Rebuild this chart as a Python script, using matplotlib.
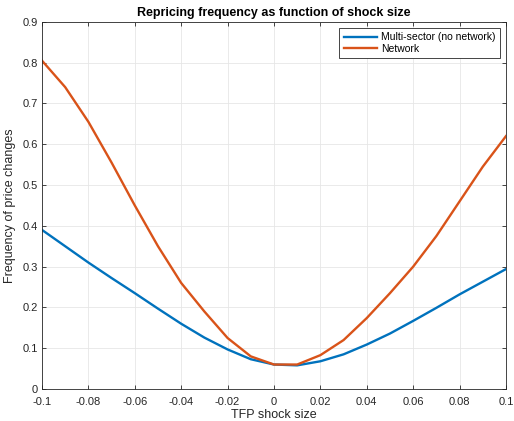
import matplotlib
matplotlib.use("Agg")
import matplotlib.pyplot as plt
import numpy as np

plt.rcParams['font.family'] = ['Liberation Sans', 'DejaVu Sans']

# shock grid and repricing frequencies
shock = np.round(np.arange(-0.1, 0.1001, 0.01), 2)
multi_sector = [0.390, 0.350, 0.310, 0.272, 0.235, 0.197, 0.160, 0.126, 0.097, 0.073,
                0.060, 0.058, 0.068, 0.085, 0.109, 0.136, 0.167, 0.199, 0.232, 0.263, 0.294]
network = [0.805, 0.740, 0.655, 0.555, 0.450, 0.350, 0.260, 0.190, 0.125, 0.080,
           0.060, 0.060, 0.083, 0.120, 0.174, 0.235, 0.300, 0.375, 0.460, 0.545, 0.620]

fig = plt.figure(figsize=(5.14, 4.21), dpi=100)
ax = fig.add_axes([0.0817, 0.076, 0.9027, 0.872])

ax.plot(shock, multi_sector, color=(0, 0.447, 0.741), lw=1.7, label='Multi-sector (no network)')
ax.plot(shock, network, color=(0.85, 0.325, 0.098), lw=1.7, label='Network')

ax.set_xlim(-0.1, 0.1)
ax.set_ylim(0, 0.9)
ax.set_xticks(np.round(np.arange(-0.1, 0.1001, 0.02), 2))
ax.set_xticklabels(['-0.1', '-0.08', '-0.06', '-0.04', '-0.02', '0',
                    '0.02', '0.04', '0.06', '0.08', '0.1'])
ax.set_yticks(np.round(np.arange(0, 0.901, 0.1), 1))
ax.set_yticklabels(['0', '0.1', '0.2', '0.3', '0.4', '0.5', '0.6', '0.7', '0.8', '0.9'])
ax.tick_params(direction='in', labelsize=8, length=3, width=0.6, color='#262626',
               top=True, right=True, labelcolor='#262626', pad=3)
ax.tick_params(axis='x', pad=6)
ax.grid(True, color='#e6e6e6', lw=0.6)
ax.set_axisbelow(True)
for s in ax.spines.values():
    s.set_color('#262626')
    s.set_linewidth(0.6)

ax.set_xlabel('TFP shock size', fontsize=9, color='#262626', labelpad=1)
ax.set_ylabel('Frequency of price changes', fontsize=9, color='#262626', labelpad=5)
ax.set_title('Repricing frequency as function of shock size', fontsize=9,
             fontweight='bold', pad=4)

leg = ax.legend(loc='upper right', fontsize=7.5, fancybox=False, framealpha=1,
                edgecolor='#262626', handlelength=3.2, borderaxespad=0.6,
                handletextpad=0.4, labelspacing=0.15, borderpad=0.4)
leg.get_frame().set_linewidth(0.6)

fig.savefig('out.png', dpi=100)
